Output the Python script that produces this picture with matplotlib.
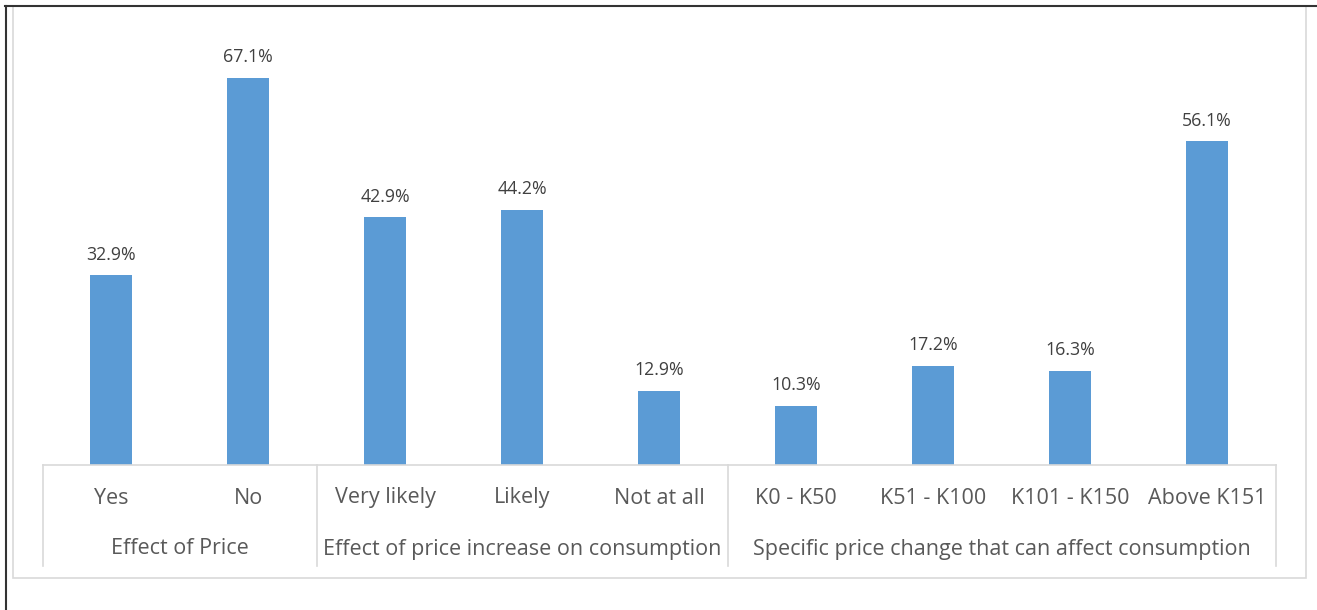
import matplotlib.pyplot as plt
from matplotlib.lines import Line2D
from matplotlib.patches import Rectangle

categories = ['Yes', 'No', 'Very likely', 'Likely', 'Not at all',
              'K0 - K50', 'K51 - K100', 'K101 - K150', 'Above K151']
values = [32.9, 67.1, 42.9, 44.2, 12.9, 10.3, 17.2, 16.3, 56.1]
groups = ['Effect of Price', 'Effect of price increase on consumption',
          'Specific price change that can affect consumption']
group_sizes = [2, 3, 4]

plt.rcParams['font.family'] = ['Open Sans', 'DejaVu Sans']

W, H = 1317, 610
fig = plt.figure(figsize=(W / 100, H / 100), dpi=100)

# outer frame
fig.add_artist(Rectangle((13 / W, 1 - 578 / H), (1306 - 13) / W, (578 - 6) / H,
                         transform=fig.transFigure, fill=False, ec='#d9d9d9', lw=1.2))
fig.add_artist(Line2D([5 / W, 1], [1 - 6 / H, 1 - 6 / H], color='#333333', lw=1.5))
fig.add_artist(Line2D([6 / W, 6 / W], [0, 1 - 6 / H], color='#333333', lw=1.5))

ax = fig.add_axes([42.5 / W, 145 / H, 1233 / W, 461.6 / H])
x = list(range(len(categories)))
ax.bar(x, values, width=0.31, color='#5b9bd5')
ax.set_xlim(-0.5, len(categories) - 0.5)
ax.set_ylim(0, 80)
ax.axis('off')

for xi, v in zip(x, values):
    ax.text(xi, v + 2.0, f'{v}%', ha='center', va='bottom', fontsize=12.8, color='#404040')

tr = ax.get_xaxis_transform()
line_col = '#d9d9d9'
ax.plot([-0.5, len(categories) - 0.5], [0, 0], transform=tr, color=line_col, lw=1.2, clip_on=False)

bottom = -101 / 461.6
edges = [-0.5]
for n in group_sizes:
    edges.append(edges[-1] + n)
for e in edges:
    ax.plot([e, e], [0, bottom], transform=tr, color=line_col, lw=1.2, clip_on=False)

for xi, c in zip(x, categories):
    ax.text(xi, -33 / 461.6, c, transform=tr, ha='center', va='center',
            fontsize=15.5, color='#595959')

for i, g in enumerate(groups):
    mid = (edges[i] + edges[i + 1]) / 2
    ax.text(mid, -84 / 461.6, g, transform=tr, ha='center', va='center',
            fontsize=15.5, color='#595959')

fig.savefig('out.png', dpi=100)
